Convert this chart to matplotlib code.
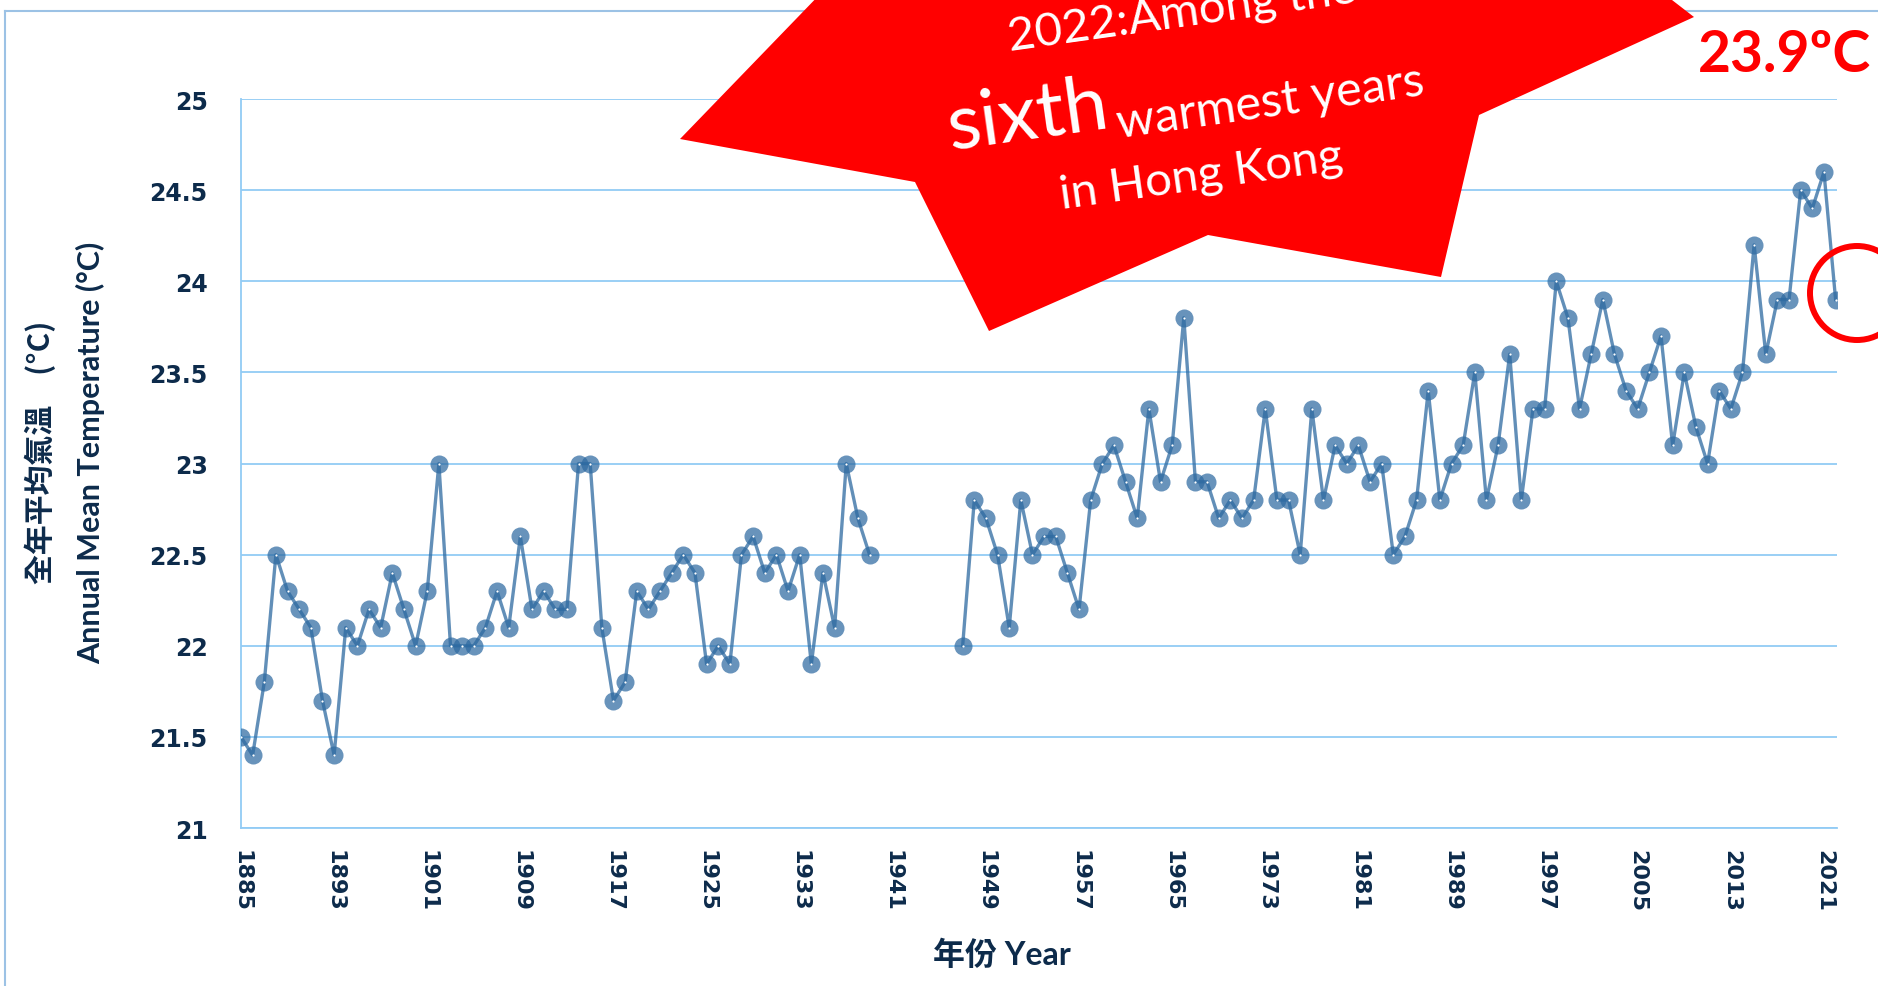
import numpy as np
import matplotlib
matplotlib.use('Agg')
import matplotlib.pyplot as plt
from matplotlib.patches import Polygon, Ellipse
from matplotlib.lines import Line2D

nan = np.nan

# 年份 / 全年平均氣溫 (°C)，1940-1946 沒有數據
years = list(range(1885, 2023))
temps = [
    21.5, 21.4, 21.8, 22.5, 22.3, 22.2, 22.1, 21.7, 21.4, 22.1,   # 1885-1894
    22.0, 22.2, 22.1, 22.4, 22.2, 22.0, 22.3, 23.0, 22.0, 22.0,   # 1895-1904
    22.0, 22.1, 22.3, 22.1, 22.6, 22.2, 22.3, 22.2, 22.2, 23.0,   # 1905-1914
    23.0, 22.1, 21.7, 21.8, 22.3, 22.2, 22.3, 22.4, 22.5, 22.4,   # 1915-1924
    21.9, 22.0, 21.9, 22.5, 22.6, 22.4, 22.5, 22.3, 22.5, 21.9,   # 1925-1934
    22.4, 22.1, 23.0, 22.7, 22.5,                                 # 1935-1939
    nan, nan, nan, nan, nan, nan, nan,                            # 1940-1946
    22.0, 22.8, 22.7, 22.5, 22.1, 22.8, 22.5, 22.6, 22.6, 22.4,   # 1947-1956
    22.2, 22.8, 23.0, 23.1, 22.9, 22.7, 23.3, 22.9, 23.1, 23.8,   # 1957-1966
    22.9, 22.9, 22.7, 22.8, 22.7, 22.8, 23.3, 22.8, 22.8, 22.5,   # 1967-1976
    23.3, 22.8, 23.1, 23.0, 23.1, 22.9, 23.0, 22.5, 22.6, 22.8,   # 1977-1986
    23.4, 22.8, 23.0, 23.1, 23.5, 22.8, 23.1, 23.6, 22.8, 23.3,   # 1987-1996
    23.3, 24.0, 23.8, 23.3, 23.6, 23.9, 23.6, 23.4, 23.3, 23.5,   # 1997-2006
    23.7, 23.1, 23.5, 23.2, 23.0, 23.4, 23.3, 23.5, 24.2, 23.6,   # 2007-2016
    23.9, 23.9, 24.5, 24.4, 24.6, 23.9,                           # 2017-2022
]

xtick_years = list(range(1885, 2022, 8))
ytick_vals = [21, 21.5, 22, 22.5, 23, 23.5, 24, 24.5, 25]
ytick_labels = ['21', '21.5', '22', '22.5', '23', '23.5', '24', '24.5', '25']

navy = '#0d2b4b'
grid_blue = '#92cbf5'
W, H = 1878, 987

fig = plt.figure(figsize=(W / 100, H / 100), dpi=100)
ax = fig.add_axes([241 / W, 0.160, (1837 - 241) / W, 0.7386])

# 折線
ax.plot(years, temps, '-', color='#2e6aa1', alpha=0.75, lw=2.4, zorder=3)
ax.plot(years, temps, 'o', color='#2e6aa1', alpha=0.72, ms=13, mew=0, zorder=3)
ax.plot(years, temps, 'o', color='white', ms=1.6, mew=0, zorder=4)

ax.set_xlim(1885, 2022.12)
ax.set_ylim(21, 25)
ax.set_yticks(ytick_vals)
ax.set_yticklabels(ytick_labels, fontsize=17, fontweight='bold', color=navy,
                   family='DejaVu Sans')
ax.set_xticks(xtick_years)
ax.set_xticklabels([str(y) for y in xtick_years], rotation=-90, fontsize=16,
                   fontweight='bold', color=navy, family='DejaVu Sans')
ax.tick_params(axis='y', length=0, pad=24)
ax.tick_params(axis='x', length=0, pad=15)
ax.yaxis.grid(True, color=grid_blue, lw=1.3)
ax.set_axisbelow(True)
for s in ['top', 'right']:
    ax.spines[s].set_visible(False)
for s in ['left', 'bottom']:
    ax.spines[s].set_color(grid_blue)
    ax.spines[s].set_linewidth(1.3)

# 軸標題
fig.text(40 / W, 1 - 452 / H, '全年平均氣溫　(°C)', rotation=90, ha='center', va='center',
         fontsize=21.5, fontweight='bold', color=navy, family=['Noto Sans CJK TC', 'DejaVu Sans'])
fig.text(91 / W, 1 - 453 / H, 'Annual Mean Temperature (°C)', rotation=90, ha='center',
         va='center', fontsize=22, fontweight='bold', color=navy, family=['Lato', 'DejaVu Sans'])
fig.text(1002 / W, 1 - 955 / H, '年份 Year', ha='center', va='center', fontsize=23,
         fontweight='bold', color=navy, family=['Lato', 'Noto Sans CJK TC'])

# 外框
fig.add_artist(Line2D([4.5 / W, 4.5 / W], [0, 1 - 12 / H], color='#9cc2e5', lw=1.5))
fig.add_artist(Line2D([4.5 / W, 1], [1 - 12 / H, 1 - 12 / H], color='#9cc2e5', lw=1.5))


def fpos(px, py):
    return (px / W, 1 - py / H)


# 紅色爆炸圖形
star_px = [(680, 140), (854, -40), (1619, -40), (1694, 18), (1479, 116),
           (1441, 278), (1208, 236), (989, 332), (915, 183)]
fig.patches.append(Polygon([fpos(*p) for p in star_px], closed=True, facecolor='#ff0000',
                           edgecolor='none', transform=fig.transFigure, figure=fig, zorder=5))

txt = dict(color='white', rotation=8, rotation_mode='anchor', ha='center', va='center',
           family=['Lato', 'DejaVu Sans'], zorder=6)
fig.text(*fpos(1182, 14), '2022:Among the', fontsize=34, **txt)
fig.text(*fpos(1028, 117), 'sixth', fontsize=56, **txt)
fig.text(*fpos(1270, 103), 'warmest years', fontsize=35, **txt)
fig.text(*fpos(1201, 176), 'in Hong Kong', fontsize=34, **txt)

fig.text(*fpos(1784, 55), '23.9ºC', color='#ff0000', fontsize=41, fontweight='bold',
         ha='center', va='center', family=['Lato', 'DejaVu Sans'], zorder=6)

fig.patches.append(Ellipse(fpos(1857, 294), 94 / W, 94 / H, facecolor='none',
                           edgecolor='#ff0000', lw=4.3, transform=fig.transFigure,
                           figure=fig, zorder=6))

fig.savefig('out.png', dpi=100)
